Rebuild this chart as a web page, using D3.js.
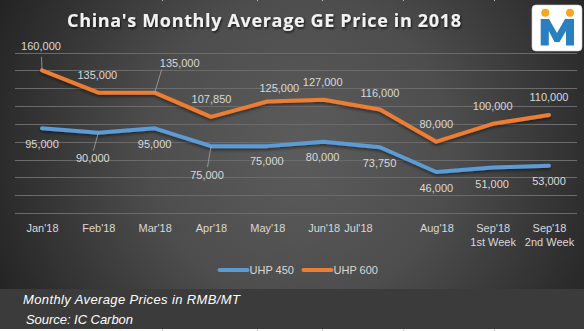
<!DOCTYPE html>
<html>
<head>
<meta charset="utf-8">
<script src="https://cdn.jsdelivr.net/npm/d3@7"></script>
<style>
  html, body { margin: 0; padding: 0; background: #ffffff; }
  svg { display: block; }
</style>
</head>
<body>
<svg id="chart" width="584" height="331"></svg>
<script>
// Monthly average graphite electrode prices (RMB/MT)
const categories = ["Jan'18", "Feb'18", "Mar'18", "Apr'18", "May'18", "Jun'18", "Jul'18", "Aug'18", "Sep'18|1st Week", "Sep'18|2nd Week"];
const uhp450 = [95000, 90000, 95000, 75000, 75000, 80000, 73750, 46000, 51000, 53000];
const uhp600 = [160000, 135000, 135000, 107850, 125000, 127000, 116000, 80000, 100000, 110000];
const seriesNames = ["UHP 450", "UHP 600"];
const seriesColors = ["#5b9bd5", "#ed7d31"];
const yMax = 180000;
const yStep = 20000;

// label placement around each point: [dx, dy, hasLeader]
const labelPos600 = [[-1, -20, 1], [-1, -13.5, 0], [25, -25.5, 1], [0.5, -14, 0], [12, -9.5, 0],
                     [-1, -13.5, 0], [0, -13, 0], [0, -14, 0], [0, -13.5, 0], [0, -14, 0]];
const labelPos450 = [[0, 19.5, 0], [-5.5, 29.5, 1], [0, 20, 0], [-4, 32.5, 1], [-0.5, 19, 0],
                     [-1, 19.5, 0], [-0.5, 19.5, 0], [0, 20, 0], [-0.5, 20, 0], [0, 19, 0]];

const W = 584, H = 331;
const svg = d3.select("#chart");
const defs = svg.append("defs");

// chart background: radial grey gradient
const bg = defs.append("radialGradient").attr("id", "bg")
  .attr("gradientUnits", "userSpaceOnUse")
  .attr("cx", 300).attr("cy", 150).attr("r", 340);
bg.append("stop").attr("offset", "0%").attr("stop-color", "#5c5c5c");
bg.append("stop").attr("offset", "45%").attr("stop-color", "#4d4d4d");
bg.append("stop").attr("offset", "100%").attr("stop-color", "#222222");

const shadow = defs.append("filter").attr("id", "lineShadow")
  .attr("x", "-10%").attr("y", "-20%").attr("width", "120%").attr("height", "160%");
shadow.append("feDropShadow").attr("dx", 0).attr("dy", 2).attr("stdDeviation", 1.5)
  .attr("flood-color", "#000").attr("flood-opacity", 0.45);

const tshadow = defs.append("filter").attr("id", "titleShadow")
  .attr("x", "-5%").attr("y", "-30%").attr("width", "110%").attr("height", "160%");
tshadow.append("feDropShadow").attr("dx", 1).attr("dy", 1.5).attr("stdDeviation", 1)
  .attr("flood-color", "#000").attr("flood-opacity", 0.7);

svg.append("rect").attr("width", W).attr("height", 289).attr("fill", "url(#bg)");
// footer band and sheet strip
svg.append("rect").attr("y", 289).attr("width", W).attr("height", 40).attr("fill", "#3b3b3b");
svg.append("rect").attr("y", 329).attr("width", W).attr("height", 2).attr("fill", "#ffffff");
[162, 257, 322, 403, 494].forEach(x => {
  svg.append("rect").attr("x", x).attr("y", 329).attr("width", 1).attr("height", 2).attr("fill", "#c8c8c8");
  svg.append("rect").attr("x", x).attr("y", 0).attr("width", 1).attr("height", 1).attr("fill", "#bdbdbd");
});

// scales
const x = d3.scalePoint().domain(categories).range([42, 549]);
const y = d3.scaleLinear().domain([0, yMax]).range([213, 52.5]);

// horizontal gridlines
const gridVals = d3.range(0, yMax + 1, yStep);
svg.append("g").selectAll("line").data(gridVals).join("line")
  .attr("x1", 15).attr("x2", 577)
  .attr("y1", d => Math.round(y(d)) + 0.5).attr("y2", d => Math.round(y(d)) + 0.5)
  .attr("stroke", "#6b6b6b").attr("stroke-width", 1);

// category axis labels (no ticks or domain line)
const xAxis = d3.axisBottom(x).tickSize(0).tickPadding(0).tickFormat(() => "");
const axisG = svg.append("g").attr("transform", "translate(0,213)").call(xAxis);
axisG.select(".domain").remove();
axisG.selectAll(".tick").each(function (d) {
  const parts = d.split("|");
  const shift = d === "Jul'18" ? -22 : 0;
  const t = d3.select(this).append("text")
    .attr("fill", "#d9d9d9")
    .attr("font-family", "'Liberation Sans', Arial, sans-serif")
    .attr("font-size", 11)
    .attr("text-anchor", "middle");
  parts.forEach((p, i) => {
    t.append("tspan").attr("x", shift).attr("y", 18.5 + i * 14.5).text(p);
  });
});

// lines
const line = d3.line().x((d, i) => x(categories[i])).y(d => y(d));
const seriesData = [uhp450, uhp600];
seriesData.forEach((vals, si) => {
  svg.append("path").datum(vals)
    .attr("d", line)
    .attr("fill", "none")
    .attr("stroke", seriesColors[si])
    .attr("stroke-width", 4)
    .attr("stroke-linejoin", "round")
    .attr("stroke-linecap", "round")
    .attr("filter", "url(#lineShadow)");
});

// data labels with leader lines
const fmt = d3.format(",");
const labelFont = "'Liberation Sans', Arial, sans-serif";
function drawLabels(vals, pos) {
  const g = svg.append("g");
  vals.forEach((v, i) => {
    const px = x(categories[i]), py = y(v);
    const [dx, dy, leader] = pos[i];
    const lx = px + dx, ly = py + dy;
    if (leader) {
      let ex, ey;
      if (dy < 0) {
        // label above: leader to label's lower edge
        ex = dx > 10 ? lx - 18 : lx + 0.5;
        ey = ly + (dx > 10 ? 2.5 : 6.5);
      } else {
        ex = lx + 0.5;
        ey = ly - 11.5;
      }
      g.append("line").attr("x1", px).attr("y1", py).attr("x2", ex).attr("y2", ey)
        .attr("stroke", "#a6a6a6").attr("stroke-width", 0.8);
    }
    g.append("text").attr("x", lx).attr("y", ly)
      .attr("text-anchor", "middle")
      .attr("fill", "#d9d9d9")
      .attr("font-family", labelFont)
      .attr("font-size", 11)
      .text(fmt(v));
  });
}
drawLabels(uhp600, labelPos600);
drawLabels(uhp450, labelPos450);

// title
svg.append("text")
  .attr("x", 67).attr("y", 26.5)
  .attr("fill", "#f2f2f2")
  .attr("font-family", "'Open Sans', 'DejaVu Sans', sans-serif")
  .attr("font-weight", "bold")
  .attr("font-size", 18)
  .attr("textLength", 394)
  .attr("lengthAdjust", "spacing")
  .attr("filter", "url(#titleShadow)")
  .text("China's Monthly Average GE Price in 2018");

// legend
const legendX = [219.5, 303.5];
seriesNames.forEach((name, i) => {
  const lg = svg.append("g").attr("transform", `translate(${legendX[i]},270)`);
  lg.append("line").attr("x1", 0).attr("x2", 28).attr("y1", 0).attr("y2", 0)
    .attr("stroke", seriesColors[i]).attr("stroke-width", 4).attr("stroke-linecap", "round");
  lg.append("text").attr("x", 30).attr("y", 4)
    .attr("fill", "#d9d9d9").attr("font-family", labelFont).attr("font-size", 11)
    .text(name);
});

// footer notes
const footFont = "'Liberation Sans', Arial, sans-serif";
svg.append("text").attr("x", 23).attr("y", 303.5)
  .attr("fill", "#ffffff").attr("font-family", footFont).attr("font-style", "italic")
  .attr("font-size", 13).attr("textLength", 217).attr("lengthAdjust", "spacing")
  .text("Monthly Average Prices in RMB/MT");
svg.append("text").attr("x", 26).attr("y", 323.5)
  .attr("fill", "#ffffff").attr("font-family", footFont).attr("font-style", "italic")
  .attr("font-size", 13).attr("textLength", 107).attr("lengthAdjust", "spacing")
  .text("Source: IC Carbon");

// logo badge
const logo = svg.append("g").attr("transform", "translate(532,5)");
logo.append("rect").attr("width", 50).attr("height", 46).attr("rx", 4)
  .attr("fill", "#ffffff").attr("stroke", "#d0d0d0").attr("stroke-width", 0.6);
logo.append("circle").attr("cx", 13.3).attr("cy", 7.8).attr("r", 4).attr("fill", "#f5a623");
logo.append("circle").attr("cx", 38).attr("cy", 7.8).attr("r", 4).attr("fill", "#f5a623");
logo.append("path")
  .attr("d", "M8.7,14 L17,14 L25,28 L33,14 L42,14 L42,40.5 L34,40.5 L34,26 L27.5,37 L22.5,37 L16.8,26 L16.8,40.5 L8.7,40.5 Z")
  .attr("fill", "#2a7fc1");
</script>
</body>
</html>
